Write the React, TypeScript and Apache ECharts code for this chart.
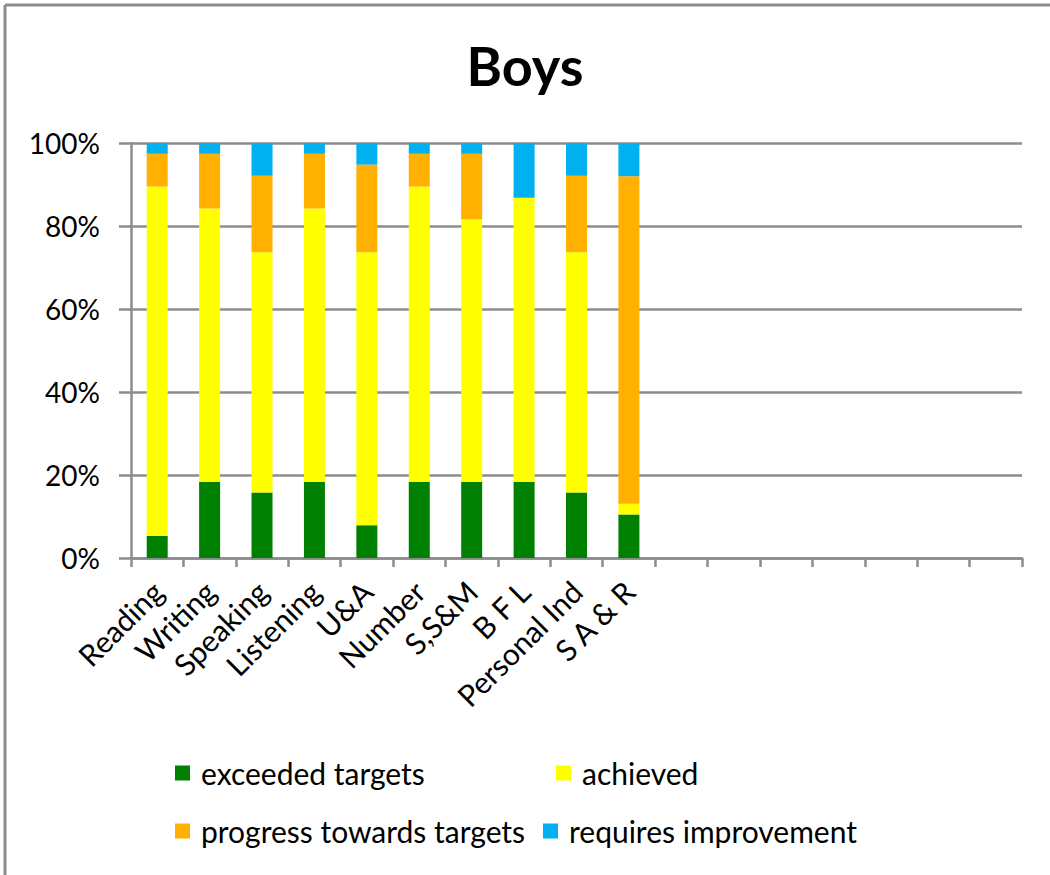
import React, { useEffect, useRef } from "react";
import * as echarts from "echarts";

const categories = [
  "Reading", "Writing", "Speaking", "Listening", "U&A", "Number", "S,S&M", "B F L", "Personal Ind", "S A & R",
  "", "", "", "", "", "", "",
];
const exceeded = [5.3, 18.4, 15.8, 18.4, 7.9, 18.4, 18.4, 18.4, 15.8, 10.5];
const achieved = [84.2, 65.8, 57.9, 65.8, 65.8, 71.1, 63.2, 68.4, 57.9, 2.6];
const progress = [7.9, 13.2, 18.4, 13.2, 21.1, 7.9, 15.8, 0, 18.4, 78.9];
const requires = [2.6, 2.6, 7.9, 2.6, 5.3, 2.6, 2.6, 13.2, 7.9, 7.9];
const yTicks = [0, 20, 40, 60, 80, 100];

const FONT = "Lato, 'Liberation Sans', sans-serif";
const GRAY = "#8c8c8c";

export default function App() {
  const ref = useRef<HTMLDivElement>(null);
  useEffect(() => {
    if (!ref.current) return;
    const chart = echarts.init(ref.current, undefined, { renderer: "svg" });
    const mk = (name: string, data: number[], color: string) => ({
      name,
      type: "bar",
      stack: "total",
      data,
      barWidth: 21,
      itemStyle: { color },
      emphasis: { disabled: true },
    });
    const legendItem = (name: string, left: number, top: number) => ({
      data: [name],
      left,
      top,
      icon: "rect",
      itemWidth: 15,
      itemHeight: 15,
      selectedMode: false,
      textStyle: { fontFamily: FONT, fontSize: 30, color: "#000", padding: [0, 0, 0, 6] },
    });
    chart.setOption({
      animation: false,
      backgroundColor: "#fff",
      title: {
        text: "Boys",
        left: "center",
        top: 33,
        textStyle: { fontFamily: FONT, fontSize: 54, fontWeight: "bold", color: "#000" },
      },
      graphic: [
        { type: "line", shape: { x1: 5, y1: 5, x2: 5, y2: 875 }, style: { stroke: GRAY, lineWidth: 3 } },
        { type: "line", shape: { x1: 5, y1: 5, x2: 1050, y2: 5 }, style: { stroke: GRAY, lineWidth: 3 } },
      ],
      legend: [
        legendItem("exceeded targets", 170, 753),
        legendItem("achieved", 551, 753),
        legendItem("progress towards targets", 170, 811),
        legendItem("requires improvement", 538, 811),
      ],
      grid: { left: 131, right: 28, top: 143, bottom: 317, containLabel: false },
      xAxis: {
        type: "category",
        data: categories,
        boundaryGap: true,
        axisLine: { show: true, lineStyle: { color: GRAY, width: 2.5 } },
        axisTick: { show: true, alignWithLabel: false, interval: 0, length: 9, lineStyle: { color: GRAY, width: 2.5 } },
        axisLabel: {
          interval: 0,
          rotate: 45,
          fontFamily: FONT,
          fontSize: 30,
          color: "#000",
          margin: 28,
        },
      },
      yAxis: {
        type: "value",
        min: yTicks[0],
        max: yTicks[yTicks.length - 1],
        interval: 20,
        axisLine: { show: true, lineStyle: { color: GRAY, width: 2.5 } },
        axisTick: { show: true, length: 12, lineStyle: { color: GRAY, width: 2.5 } },
        splitLine: { show: true, lineStyle: { color: GRAY, width: 2.5 } },
        axisLabel: {
          formatter: (v: number) => `${v}%`,
          fontFamily: FONT,
          fontSize: 28,
          color: "#000",
          margin: 31,
        },
      },
      series: [
        mk("exceeded targets", exceeded, "#008000"),
        mk("achieved", achieved, "#FFFF00"),
        mk("progress towards targets", progress, "#FFB000"),
        mk("requires improvement", requires, "#00B0F0"),
      ],
    });
    return () => chart.dispose();
  }, []);
  return (
    <div
      ref={ref}
      style={{ position: "fixed", left: 0, top: 0, width: 1050, height: 875 }}
    />
  );
}
